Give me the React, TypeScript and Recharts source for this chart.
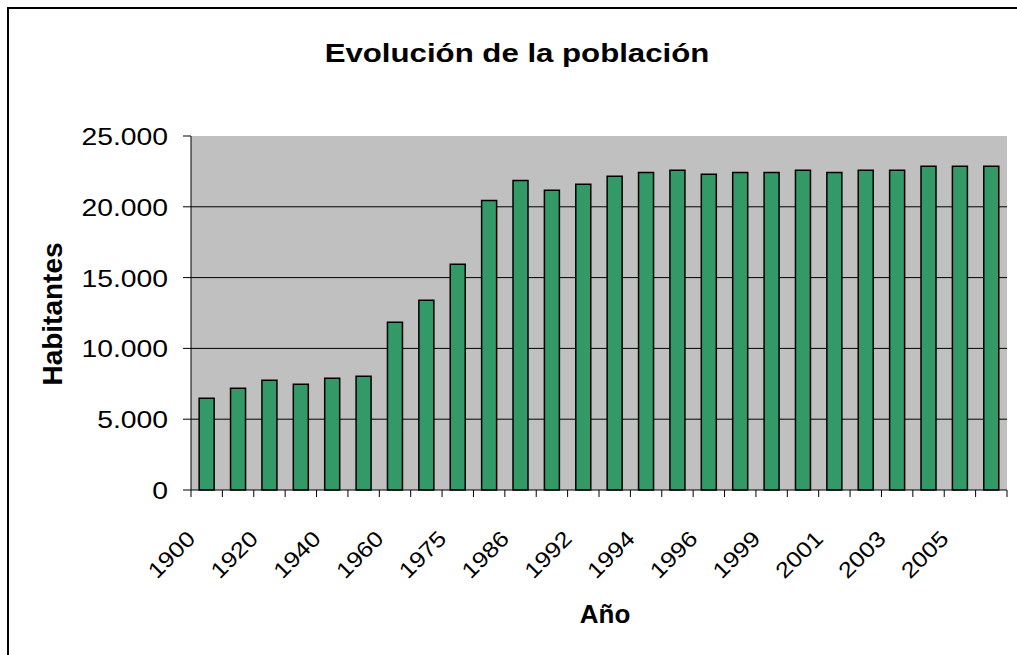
import React from 'react';
import { Bar, BarChart, CartesianGrid, XAxis, YAxis } from 'recharts';

const YEARS = [
  '1900', '1910', '1920', '1930', '1940', '1950', '1960', '1970', '1975', '1981',
  '1986', '1991', '1992', '1993', '1994', '1995', '1996', '1998', '1999', '2000',
  '2001', '2002', '2003', '2004', '2005', '2006',
];
const POPULATION = [
  6480, 7180, 7750, 7460, 7890, 8030, 11850, 13400, 15940, 20450,
  21860, 21160, 21590, 22150, 22430, 22580, 22290, 22430, 22430, 22580,
  22430, 22580, 22580, 22860, 22860, 22860,
];
const Y_TICKS = [0, 5000, 10000, 15000, 20000, 25000];
const GRID_VALUES = [5000, 10000, 15000, 20000];
const Y_MAX = 25000;

const TITLE = 'Evolución de la población';
const X_TITLE = 'Año';
const Y_TITLE = 'Habitantes';

const W = 1017;
const H = 655;
const FONT = '"Liberation Sans", Arial, sans-serif';

const data = YEARS.map((year, i) => ({ year, value: POPULATION[i] }));

const fmt = (v: number) => String(v).replace(/\B(?=(\d{3})+(?!\d))/g, '.');

function YTick(props: any) {
  const { x, y, payload } = props;
  return (
    <text
      transform={`translate(${x}, ${y + 9}) scale(1.18, 1)`}
      textAnchor="end"
      fontSize={24}
      fontFamily={FONT}
      fill="#000"
    >
      {fmt(payload.value)}
    </text>
  );
}

function XTick(props: any) {
  const { x, y, payload, index } = props;
  const half = payload?.offset || 15.7;
  return (
    <g>
      <line x1={x - half} y1={y} x2={x - half} y2={y + 7} stroke="#000" strokeWidth={1} />
      {index === YEARS.length - 1 && (
        <line x1={x + half} y1={y} x2={x + half} y2={y + 7} stroke="#000" strokeWidth={1} />
      )}
      {index % 2 === 0 && (
        <text
          transform={`translate(${x - 10}, ${y + 50}) rotate(-45) scale(1.15, 1)`}
          textAnchor="end"
          fontSize={22}
          fontFamily={FONT}
          fill="#000"
        >
          {payload.value}
        </text>
      )}
    </g>
  );
}

const gridRows = (p: any) => {
  const s = p?.yAxis?.scale;
  if (typeof s === 'function') return GRID_VALUES.map((v) => s(v));
  if (s && typeof s.map === 'function') return GRID_VALUES.map((v) => s.map(v));
  return GRID_VALUES.map((v) => p.offset.top + p.offset.height * (1 - v / Y_MAX));
};

export default function App() {
  return (
    <div style={{ position: 'absolute', left: 0, top: 0, width: W, height: H, overflow: 'hidden', background: '#fff' }}>
      <BarChart
        width={W}
        height={H}
        data={data}
        margin={{ top: 136, right: 10, bottom: 105, left: 131 }}
        barCategoryGap="26%"
      >
        <CartesianGrid
          fill="#C0C0C0"
          fillOpacity={1}
          stroke="#000"
          vertical={false}
          horizontalCoordinatesGenerator={gridRows}
        />
        <XAxis
          dataKey="year"
          interval={0}
          tickSize={0}
          tickMargin={0}
          tickLine={false}
          axisLine={{ stroke: '#000' }}
          tick={<XTick />}
          height={60}
        />
        <YAxis
          domain={[0, Y_MAX]}
          ticks={Y_TICKS}
          interval={0}
          tickSize={8}
          tickMargin={15}
          tickLine={{ stroke: '#000' }}
          axisLine={{ stroke: '#000' }}
          tick={<YTick />}
          width={60}
        />
        <Bar dataKey="value" fill="#339966" stroke="#000" strokeWidth={1.5} isAnimationActive={false} />
      </BarChart>
      <svg
        width={W}
        height={H}
        style={{ position: 'absolute', left: 0, top: 0, pointerEvents: 'none' }}
      >
        <rect x={8} y={8} width={1100} height={800} fill="none" stroke="#000" strokeWidth={2} />
        <text
          transform="translate(517, 62) scale(1.2, 1)"
          textAnchor="middle"
          fontSize={26}
          fontWeight="bold"
          fontFamily={FONT}
        >
          {TITLE}
        </text>
        <text
          transform="translate(605, 623)"
          textAnchor="middle"
          fontSize={26}
          fontWeight="bold"
          fontFamily={FONT}
        >
          {X_TITLE}
        </text>
        <text
          transform="translate(62, 314) rotate(-90)"
          textAnchor="middle"
          fontSize={28}
          fontWeight="bold"
          fontFamily={FONT}
        >
          {Y_TITLE}
        </text>
      </svg>
    </div>
  );
}
